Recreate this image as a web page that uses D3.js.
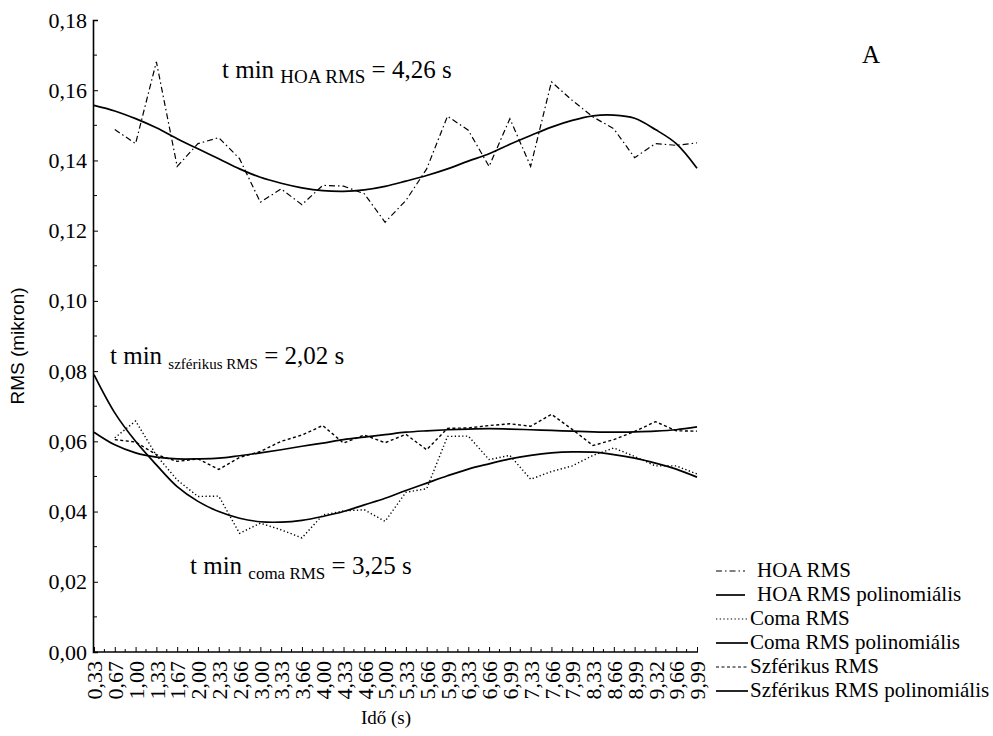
<!DOCTYPE html>
<html>
<head>
<meta charset="utf-8">
<script src="https://cdn.jsdelivr.net/npm/d3@7/dist/d3.min.js"></script>
<style>
  body { margin: 0; background: #fff; }
  svg { display: block; }
  .serif { font-family: "Liberation Serif", "Times New Roman", Tinos, "Nimbus Roman", "DejaVu Serif", serif; }
  .sans { font-family: "Liberation Sans", Arial, Arimo, sans-serif; }
</style>
</head>
<body>
<div id="chart"></div>
<script>
// time points (s), as printed on the axis
const timeLabels = ['0,33', '0,67', '1,00', '1,33', '1,67', '2,00', '2,33', '2,66', '3,00', '3,33',
    '3,66', '4,00', '4,33', '4,66', '5,00', '5,33', '5,66', '5,99', '6,33', '6,66',
    '6,99', '7,33', '7,66', '7,99', '8,33', '8,66', '8,99', '9,32', '9,66', '9,99']

// measured series start at 0,67 s
const hoaRms = [null, 0.1488, 0.1448, 0.1681, 0.1383, 0.1448, 0.1465, 0.1405, 0.1281, 0.1319,
    0.1274, 0.1329, 0.1327, 0.1305, 0.1224, 0.1286, 0.1376, 0.1526, 0.1486, 0.1383,
    0.1519, 0.1383, 0.1624, 0.1571, 0.1524, 0.1490, 0.1408, 0.1448, 0.1443, 0.1450]
const hoaPoly = [0.1557, 0.1541, 0.1519, 0.1493, 0.1462, 0.1433, 0.1405, 0.1376, 0.1352, 0.1335,
    0.1322, 0.1314, 0.1312, 0.1316, 0.1326, 0.1341, 0.1357, 0.1376, 0.1398, 0.1419,
    0.1446, 0.1471, 0.1495, 0.1514, 0.1527, 0.1529, 0.1520, 0.1488, 0.1448, 0.1378]

const comaRms = [null, 0.0610, 0.0658, 0.0560, 0.0490, 0.0443, 0.0444, 0.0338, 0.0367, 0.0348,
    0.0325, 0.0390, 0.0402, 0.0405, 0.0372, 0.0455, 0.0465, 0.0614, 0.0615, 0.0548,
    0.0560, 0.0492, 0.0514, 0.0530, 0.0560, 0.0581, 0.0557, 0.0530, 0.0530, 0.0507]
const comaPoly = [0.0790, 0.0681, 0.0600, 0.0533, 0.0471, 0.0429, 0.0400, 0.0381, 0.0371, 0.0370,
    0.0375, 0.0386, 0.0400, 0.0419, 0.0438, 0.0460, 0.0481, 0.0502, 0.0521, 0.0536,
    0.0550, 0.0560, 0.0567, 0.0570, 0.0569, 0.0562, 0.0552, 0.0538, 0.0521, 0.0498]

const sphRms = [null, 0.0605, 0.0598, 0.0562, 0.0543, 0.0550, 0.0520, 0.0554, 0.0571, 0.0600,
    0.0618, 0.0645, 0.0595, 0.0618, 0.0596, 0.0620, 0.0576, 0.0637, 0.0638, 0.0645,
    0.0650, 0.0643, 0.0677, 0.0634, 0.0588, 0.0605, 0.0628, 0.0656, 0.0630, 0.0629]
const sphPoly = [0.0626, 0.0590, 0.0567, 0.0555, 0.0550, 0.0550, 0.0552, 0.0559, 0.0567, 0.0576,
    0.0586, 0.0595, 0.0605, 0.0612, 0.0619, 0.0626, 0.0630, 0.0633, 0.0635, 0.0636,
    0.0635, 0.0633, 0.0631, 0.0629, 0.0627, 0.0626, 0.0627, 0.0629, 0.0633, 0.0641]

const yTicks = [0, 0.02, 0.04, 0.06, 0.08, 0.10, 0.12, 0.14, 0.16, 0.18]

const seriesNames = ['HOA RMS', 'HOA RMS polinomiális', 'Coma RMS', 'Coma RMS polinomiális',
    'Szférikus RMS', 'Szférikus RMS polinomiális']

const width = 993
const height = 736

const svg = d3.select('#chart').append('svg')
    .attr('width', width)
    .attr('height', height)
    .style('background', '#fff')

const x = d3.scalePoint().domain(timeLabels).range([94, 697])
const y = d3.scaleLinear().domain([0, 0.18]).range([652, 20])

const series = [
    {name: seriesNames[0], values: hoaRms, dash: '6,3,1.5,3', w: 1.2, curve: d3.curveLinear},
    {name: seriesNames[1], values: hoaPoly, dash: null, w: 1.7, curve: d3.curveCatmullRom},
    {name: seriesNames[2], values: comaRms, dash: '1.3,2.4', w: 1.4, curve: d3.curveLinear},
    {name: seriesNames[3], values: comaPoly, dash: null, w: 1.7, curve: d3.curveCatmullRom},
    {name: seriesNames[4], values: sphRms, dash: '3,2.5', w: 1.4, curve: d3.curveLinear},
    {name: seriesNames[5], values: sphPoly, dash: null, w: 1.7, curve: d3.curveCatmullRom}
]

// lines
series.forEach(s => {
    const line = d3.line()
        .defined(d => d != null)
        .x((d, i) => x(timeLabels[i]))
        .y(d => y(d))
        .curve(s.curve)
    svg.append('path')
        .datum(s.values)
        .attr('fill', 'none')
        .attr('stroke', '#000')
        .attr('stroke-width', s.w)
        .attr('stroke-dasharray', s.dash)
        .attr('d', line)
})

// y axis, ticks pointing inwards
const yAxis = svg.append('g')
    .attr('transform', 'translate(93,0)')
    .call(d3.axisLeft(y).tickValues(yTicks).tickSize(-5).tickPadding(6)
        .tickFormat(d => d3.format('.2f')(d).replace('.', ',')))
yAxis.attr('font-family', null).attr('font-size', null)
yAxis.select('.domain').attr('stroke-width', 1.6)
yAxis.selectAll('text')
    .attr('class', 'serif')
    .style('font-size', '22px')
    .attr('fill', '#000')
yAxis.selectAll('.minor')
    .data(d3.range(0.01, 0.18, 0.02))
    .enter().append('line')
    .attr('x1', 0).attr('x2', 4)
    .attr('y1', d => y(d)).attr('y2', d => y(d))
    .attr('stroke', '#000')

// x axis
const xAxis = svg.append('g')
    .attr('transform', 'translate(0,652)')
    .call(d3.axisBottom(x).tickSize(-5).tickPadding(10))
xAxis.attr('font-family', null).attr('font-size', null)
xAxis.select('.domain').attr('d', 'M93,0H698').attr('stroke-width', 1.6)
xAxis.selectAll('text')
    .attr('class', 'serif')
    .style('font-size', '22px')
    .attr('fill', '#000')
    .attr('text-anchor', 'end')
    .attr('dy', '0.35em')
    .attr('transform', 'rotate(-90)')
    .attr('x', -9)
    .attr('y', 0)
xAxis.selectAll('.minor')
    .data(timeLabels.slice(1))
    .enter().append('line')
    .attr('x1', (d, i) => (x(d) + x(timeLabels[i])) / 2)
    .attr('x2', (d, i) => (x(d) + x(timeLabels[i])) / 2)
    .attr('y1', 0).attr('y2', -3)
    .attr('stroke', '#000')

// axis titles
svg.append('text')
    .attr('class', 'sans')
    .attr('transform', 'translate(24,346) rotate(-90)')
    .attr('text-anchor', 'middle')
    .style('font-size', '19px')
    .text('RMS (mikron)')

svg.append('text')
    .attr('class', 'serif')
    .attr('x', 386).attr('y', 724)
    .attr('text-anchor', 'middle')
    .style('font-size', '19px')
    .text('Idő (s)')

// annotations with subscripts
function annot(px, py, sub, subSize, rest) {
    const t = svg.append('text')
        .attr('class', 'serif')
        .attr('x', px).attr('y', py)
        .style('font-size', '25px')
    t.append('tspan').text('t min ')
    t.append('tspan').style('font-size', subSize + 'px').attr('dy', 5).text(sub)
    t.append('tspan').attr('dy', -5).text(rest)
}
annot(222, 78, 'HOA RMS', 19, ' = 4,26 s')
annot(110, 364, 'szférikus RMS', 15, ' = 2,02 s')
annot(190, 574, 'coma RMS', 17, ' = 3,25 s')

svg.append('text')
    .attr('class', 'serif')
    .attr('x', 862).attr('y', 63)
    .style('font-size', '25px')
    .text('A')

// legend
const legend = svg.append('g')
legend.selectAll('g')
    .data(series)
    .enter().append('g')
    .attr('transform', (d, i) => `translate(0,${571 + i * 24})`)
    .each(function(d, i) {
        const g = d3.select(this)
        g.append('line')
            .attr('x1', 716).attr('x2', i < 2 ? 745 : 748)
            .attr('y1', 0).attr('y2', 0)
            .attr('stroke', '#000')
            .attr('stroke-width', d.dash ? 1.2 : 1.7)
            .attr('stroke-dasharray', d.dash)
        g.append('text')
            .attr('class', 'serif')
            .attr('x', i < 2 ? 757 : 750)
            .attr('y', 6)
            .style('font-size', '21px')
            .text(d.name)
    })
</script>
</body>
</html>
